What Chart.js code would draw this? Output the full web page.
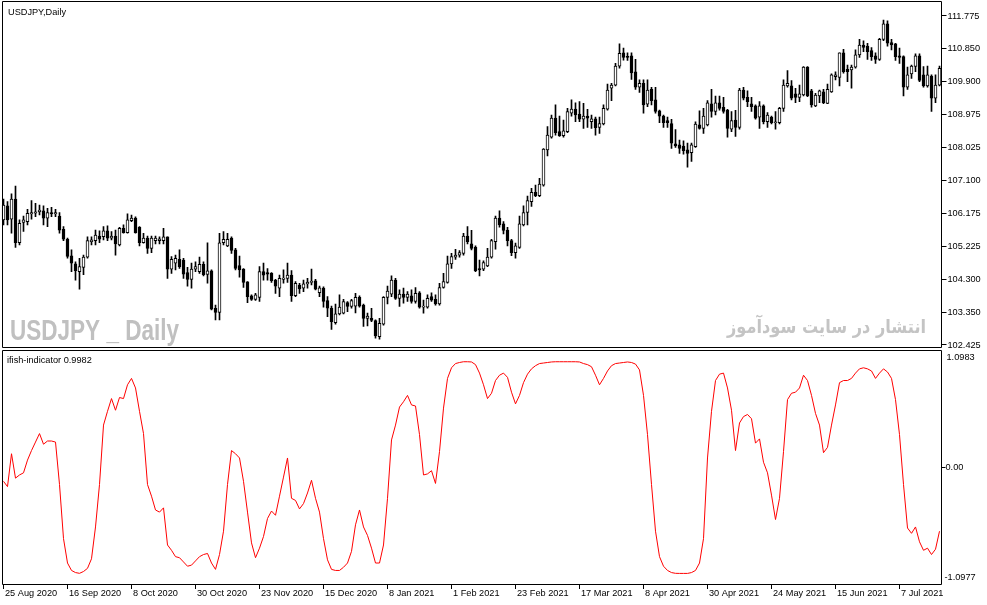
<!DOCTYPE html>
<html>
<head>
<meta charset="utf-8">
<script src="https://cdn.jsdelivr.net/npm/chart.js@4.4.1/dist/chart.umd.min.js"></script>
<style>
html,body{margin:0;padding:0;background:#ffffff;overflow:hidden;}
#wrap{position:relative;width:987px;height:605px;background:#ffffff;}
#ifishCanvas{position:absolute;left:0;top:349px;z-index:1;}
#priceCanvas{position:absolute;left:0;top:0;z-index:2;}
</style>
</head>
<body>
<div id="wrap">
<canvas id="priceCanvas" width="987" height="353"></canvas>
<canvas id="ifishCanvas" width="987" height="256"></canvas>
</div>
<script>
// ---------- DATA ----------
const openP = [
105.98,106.38,106.00,106.57,105.33,105.91,105.93,106.15,106.17,106.21,
106.24,106.03,106.19,106.15,106.09,105.71,105.43,104.96,104.73,104.51,
104.63,104.92,105.36,105.39,105.52,105.50,105.67,105.46,105.52,105.27,
105.74,105.62,105.96,106.03,105.77,105.33,105.46,105.17,105.39,105.39,
105.39,105.50,104.58,104.75,104.86,104.84,104.48,104.29,104.58,104.51,
104.72,104.43,104.53,103.47,103.35,105.33,105.24,105.46,105.13,104.68,
104.58,104.22,103.82,103.72,103.78,104.51,104.48,104.46,104.27,104.04,
104.29,104.32,104.41,103.83,104.13,104.04,104.16,104.20,104.25,103.91,
104.04,103.69,103.47,103.06,103.31,103.33,103.63,103.52,103.53,103.78,
103.56,103.18,103.18,103.12,102.66,103.02,103.78,103.87,104.27,103.75,
103.87,103.78,103.82,103.66,103.91,103.50,103.50,103.80,103.72,103.59,
104.06,104.20,104.73,104.92,104.98,105.03,105.52,105.30,105.20,104.60,
104.58,104.67,104.92,105.36,106.03,105.87,105.69,105.39,105.05,105.20,
105.84,106.19,106.50,106.76,106.67,106.97,107.97,108.33,108.87,108.49,
108.37,108.49,109.01,109.13,108.99,108.84,108.93,108.77,108.85,108.61,
108.71,109.13,109.72,109.81,110.35,110.73,110.62,110.64,110.19,109.75,
109.86,109.27,109.69,109.39,109.08,108.93,108.80,108.72,108.14,108.11,
108.08,107.97,107.89,108.06,108.68,108.58,108.68,109.28,109.06,109.31,
109.18,109.10,108.56,108.82,108.61,109.67,109.46,109.28,109.22,108.90,
109.22,108.77,108.90,108.74,108.74,109.15,109.79,109.79,109.56,109.46,
109.53,110.32,109.65,109.22,109.50,109.62,109.29,109.62,110.05,110.03,
110.73,110.26,110.24,110.32,110.67,110.95,110.92,110.79,110.64,110.54,
111.11,111.55,111.02,110.98,110.64,110.62,109.75,110.13,110.34,110.64,
110.10,109.79,110.07,109.44,109.81];

const highP = [
106.57,106.50,106.72,106.94,105.98,106.09,106.28,106.53,106.45,106.40,
106.38,106.31,106.34,106.28,106.19,105.79,105.46,105.13,104.79,104.89,
104.98,105.50,105.50,105.69,105.67,105.79,105.81,105.65,105.69,105.77,
105.84,106.15,106.12,106.07,105.79,105.60,105.52,105.52,105.52,105.50,
105.74,105.50,104.94,104.98,105.13,104.89,104.63,104.75,104.79,104.92,
104.79,105.33,104.56,103.56,105.60,105.65,105.60,105.50,105.17,104.95,
104.60,104.23,103.85,103.89,104.65,104.75,104.60,104.48,104.29,104.41,
104.56,104.75,104.54,104.23,104.18,104.27,104.32,104.58,104.29,104.10,
104.08,103.80,103.53,103.59,103.85,103.72,103.66,103.72,103.89,103.82,
103.59,103.33,103.47,103.14,103.18,103.80,104.10,104.39,104.32,103.99,
104.04,103.94,103.99,104.06,103.94,103.70,103.85,103.91,103.85,104.18,
104.46,104.95,105.03,105.14,105.11,105.60,105.79,105.68,105.24,104.84,
104.82,105.17,105.43,106.09,106.24,105.93,105.77,105.43,105.32,106.09,
106.38,106.66,106.88,106.97,107.16,108.01,108.63,108.96,109.25,108.93,
108.82,109.15,109.39,109.31,109.34,109.29,109.12,108.96,108.90,108.90,
109.25,109.84,109.86,110.43,110.98,110.86,110.73,110.73,110.54,109.96,
109.96,109.96,109.75,109.75,109.10,108.96,108.90,108.84,108.55,108.25,
108.23,108.16,108.16,108.77,109.08,109.15,109.37,109.69,109.50,109.50,
109.46,109.12,109.06,109.09,109.72,109.75,109.65,109.46,109.25,109.34,
109.25,109.03,108.93,109.06,109.18,109.96,110.22,109.94,109.72,109.81,
110.34,110.34,109.69,109.58,109.67,109.69,109.84,110.13,110.19,110.73,
110.83,110.38,110.38,110.81,111.11,111.07,111.00,110.88,110.73,111.14,
111.66,111.64,111.11,111.00,110.86,110.64,110.32,110.38,110.70,110.70,
110.34,110.35,110.10,110.10,110.35];

const lowP = [
105.84,105.84,105.60,105.20,105.27,105.65,105.84,106.00,106.07,106.12,
105.84,105.79,106.07,106.07,105.60,105.39,104.89,104.51,104.27,104.01,
104.42,104.89,105.27,105.27,105.33,105.41,105.39,105.41,104.98,105.24,
105.60,105.60,105.93,105.60,105.24,105.32,105.03,105.05,105.30,105.30,
105.30,104.32,104.46,104.56,104.60,104.32,104.10,104.04,104.51,104.46,
104.39,104.18,103.42,103.14,103.14,105.27,105.22,105.03,104.56,104.35,
104.06,103.63,103.69,103.69,103.66,104.27,104.27,104.20,103.89,103.80,
104.18,104.20,103.66,103.80,103.89,103.94,104.04,104.13,103.99,103.80,
103.50,103.23,102.87,103.02,103.28,103.31,103.37,103.47,103.34,103.50,
102.95,102.97,103.09,102.62,102.59,102.99,103.59,103.80,103.72,103.52,
103.61,103.66,103.61,103.61,103.47,103.33,103.47,103.66,103.56,103.56,
104.04,104.18,104.60,104.86,104.92,104.98,105.30,105.13,104.51,104.39,
104.54,104.65,104.89,105.15,105.77,105.58,105.24,104.96,104.89,105.17,
105.81,105.84,106.36,106.64,106.64,106.94,107.80,108.30,108.39,108.35,
108.33,108.46,108.93,108.77,108.77,108.58,108.61,108.58,108.39,108.44,
108.68,109.10,109.37,109.79,110.29,110.52,110.51,109.97,109.69,109.60,
109.01,109.20,109.25,109.01,108.74,108.61,108.61,108.01,108.04,107.87,
107.85,107.48,107.64,108.04,108.56,108.44,108.65,108.90,108.96,109.10,
109.01,108.33,108.49,108.35,108.56,109.39,109.20,109.06,108.84,108.58,
108.71,108.61,108.71,108.56,108.71,109.06,109.75,109.39,109.31,109.34,
109.50,109.48,109.18,109.20,109.31,109.28,109.28,109.60,109.96,109.79,
110.15,109.91,109.72,110.29,110.60,110.76,110.54,110.51,110.43,110.51,
111.07,110.92,110.81,110.51,110.43,109.50,109.69,110.00,110.19,109.91,
109.75,109.75,109.06,109.31,109.79];

const closeP = [
106.40,105.98,106.57,105.33,105.88,105.98,106.17,106.19,106.21,106.26,
106.03,106.19,106.15,106.19,105.69,105.43,104.94,104.75,104.54,104.65,
104.92,105.39,105.41,105.55,105.43,105.67,105.46,105.52,105.30,105.74,
105.62,105.98,106.03,105.62,105.33,105.46,105.17,105.46,105.46,105.44,
105.50,104.58,104.86,104.89,104.65,104.44,104.29,104.58,104.65,104.72,
104.42,104.53,103.44,103.35,105.33,105.43,105.43,105.11,104.60,104.56,
104.20,103.80,103.72,103.85,104.51,104.41,104.44,104.25,104.10,104.32,
104.33,104.41,103.83,104.18,104.02,104.16,104.21,104.24,104.01,104.05,
103.66,103.47,103.09,103.31,103.50,103.66,103.52,103.69,103.78,103.53,
103.18,103.25,103.12,102.68,103.04,103.78,103.96,104.27,103.75,103.87,
103.78,103.87,103.66,103.89,103.50,103.53,103.75,103.70,103.59,104.06,
104.23,104.73,104.94,104.98,105.05,105.52,105.36,105.17,104.54,104.56,
104.77,104.92,105.39,106.03,105.84,105.68,105.39,105.05,105.24,105.87,
106.19,106.53,106.76,106.67,107.00,107.99,108.39,108.87,108.46,108.37,
108.51,109.06,109.13,108.96,108.84,108.93,108.87,108.85,108.60,108.72,
109.15,109.67,109.81,110.35,110.71,110.60,110.60,110.16,109.75,109.86,
109.25,109.67,109.37,109.06,108.93,108.74,108.74,108.16,108.08,108.01,
107.95,107.87,108.11,108.70,108.58,108.93,109.31,109.06,109.31,109.15,
109.06,108.58,108.80,108.61,109.67,109.44,109.34,109.20,108.87,109.22,
108.77,108.96,108.74,108.77,109.15,109.81,109.86,109.44,109.46,109.56,
110.32,109.50,109.25,109.53,109.65,109.31,109.69,110.10,110.10,110.73,
110.19,110.19,110.32,110.67,110.95,110.88,110.76,110.62,110.54,111.11,
111.55,111.00,110.95,110.62,110.60,109.75,110.10,110.35,110.64,109.94,
109.79,110.10,109.44,109.81,110.29];

const ifish = [
-0.13,-0.18,0.13,-0.10,-0.07,-0.05,0.07,0.16,0.24,0.32,
0.22,0.25,0.25,0.24,-0.16,-0.67,-0.90,-0.97,-0.99,-0.997,
-0.98,-0.95,-0.86,-0.56,-0.16,0.40,0.53,0.65,0.54,0.66,
0.65,0.78,0.84,0.75,0.53,0.32,-0.16,-0.27,-0.40,-0.42,
-0.38,-0.73,-0.78,-0.84,-0.85,-0.89,-0.93,-0.92,-0.88,-0.84,
-0.82,-0.81,-0.90,-0.96,-0.82,-0.60,-0.16,0.16,0.13,0.09,
-0.13,-0.42,-0.71,-0.85,-0.76,-0.65,-0.48,-0.41,-0.45,-0.27,
-0.09,0.09,-0.29,-0.31,-0.39,-0.34,-0.24,-0.12,-0.29,-0.42,
-0.67,-0.87,-0.96,-0.97,-0.97,-0.94,-0.90,-0.79,-0.54,-0.40,
-0.56,-0.64,-0.76,-0.90,-0.90,-0.73,-0.29,0.26,0.40,0.57,
0.62,0.68,0.59,0.58,0.31,-0.07,-0.06,-0.03,-0.15,0.15,
0.56,0.84,0.94,0.98,0.99,0.997,0.997,0.995,0.97,0.89,
0.78,0.65,0.70,0.82,0.87,0.89,0.85,0.71,0.60,0.68,
0.80,0.88,0.93,0.96,0.98,0.985,0.99,0.995,0.997,0.997,
0.997,0.997,0.997,0.997,0.995,0.98,0.97,0.95,0.87,0.78,
0.84,0.91,0.96,0.98,0.985,0.99,0.995,0.99,0.975,0.92,
0.68,0.31,-0.16,-0.60,-0.84,-0.93,-0.97,-0.99,-0.997,-0.998,
-0.998,-0.998,-0.99,-0.97,-0.90,-0.67,0.09,0.53,0.82,0.88,
0.89,0.75,0.54,0.16,0.42,0.48,0.50,0.46,0.23,0.27,
0.05,-0.05,-0.26,-0.49,-0.29,0.15,0.64,0.70,0.71,0.75,
0.87,0.82,0.68,0.51,0.40,0.14,0.19,0.40,0.59,0.80,
0.82,0.82,0.84,0.89,0.93,0.94,0.93,0.91,0.84,0.89,
0.93,0.90,0.84,0.64,0.31,-0.16,-0.57,-0.62,-0.56,-0.70,
-0.78,-0.76,-0.82,-0.77,-0.60];

const priceTicks = [102.425,103.350,104.300,105.225,106.175,107.100,108.025,108.975,109.900,110.850,111.775];
const ifishTicks = [-1.0977, 0, 1.0983];
const firstDay = [2020, 7, 25];          // 25 Aug 2020 (month 0-based)
const holidays = ['2020-12-25', '2021-01-01'];
const dateTickEvery = 16;
const monthNames = ['Jan','Feb','Mar','Apr','May','Jun','Jul','Aug','Sep','Oct','Nov','Dec'];
const symbolTitle = 'USDJPY,Daily';
const indicatorTitle = 'ifish-indicator 0.9982';
const watermarkLatin = 'USDJPY _ Daily';
const watermarkPersian = 'انتشار در سایت سودآموز';

// trading-day categories
function buildCategories(n) {
  const out = [];
  const d = new Date(Date.UTC(firstDay[0], firstDay[1], firstDay[2]));
  while (out.length < n) {
    const dow = d.getUTCDay();
    const iso = d.toISOString().slice(0, 10);
    if (dow !== 0 && dow !== 6 && holidays.indexOf(iso) < 0) {
      out.push(d.getUTCDate() + ' ' + monthNames[d.getUTCMonth()] + ' ' + d.getUTCFullYear());
    }
    d.setUTCDate(d.getUTCDate() + 1);
  }
  return out;
}
const categories = buildCategories(closeP.length);

// ---------- STYLE ----------
const AXIS_FONT = { family: "'Liberation Sans', Arial, sans-serif", size: 9.2, lineHeight: 1 };
const FONT_CSS = "9.2px 'Liberation Sans', Arial, sans-serif";
Chart.defaults.font.family = AXIS_FONT.family;

function framePlugin(id, x1, y1, x2, y2) {
  return {
    id: id,
    afterDraw(chart) {
      const ctx = chart.ctx;
      ctx.save();
      ctx.strokeStyle = '#000000';
      ctx.lineWidth = 1;
      ctx.beginPath();
      ctx.rect(x1, y1, x2 - x1, y2 - y1);
      ctx.stroke();
      ctx.restore();
    }
  };
}

const priceOverlay = {
  id: 'priceOverlay',
  beforeDatasetsDraw(chart) {
    const ctx = chart.ctx;
    // Latin watermark
    ctx.save();
    ctx.fillStyle = '#c0c0c0';
    ctx.font = "bold 30px 'Liberation Sans Narrow', 'Arial Narrow', 'Liberation Sans', sans-serif";
    ctx.textAlign = 'left';
    ctx.textBaseline = 'alphabetic';
    const w1 = ctx.measureText(watermarkLatin).width;
    ctx.translate(10, 340);
    ctx.scale(169 / w1, 1);
    ctx.fillText(watermarkLatin, 0, 0);
    ctx.restore();
    // Persian watermark
    ctx.save();
    ctx.fillStyle = '#c4c4c4';
    ctx.font = "bold 19px 'DejaVu Sans', sans-serif";
    ctx.textAlign = 'left';
    ctx.textBaseline = 'alphabetic';
    const w2 = ctx.measureText(watermarkPersian).width;
    ctx.translate(727, 333);
    ctx.scale(199 / w2, 1);
    ctx.fillText(watermarkPersian, 0, 0);
    ctx.restore();
  },
  afterDraw(chart) {
    const ctx = chart.ctx;
    ctx.save();
    ctx.fillStyle = '#000000';
    ctx.font = FONT_CSS;
    ctx.textAlign = 'left';
    ctx.textBaseline = 'alphabetic';
    ctx.fillText(symbolTitle, 8, 15);
    ctx.restore();
  }
};

const ifishOverlay = {
  id: 'ifishOverlay',
  afterDraw(chart) {
    const ctx = chart.ctx;
    const ys = chart.scales.y;
    ctx.save();
    ctx.fillStyle = '#000000';
    ctx.font = FONT_CSS;
    ctx.textAlign = 'left';
    ctx.textBaseline = 'alphabetic';
    ctx.fillText(indicatorTitle, 7, 14);
    ctx.textBaseline = 'middle';
    const lx = ys.left + 5;
    ctx.fillText(ifishTicks[2].toFixed(4), lx, ys.getPixelForValue(ifishTicks[2]) + 6.5);
    ctx.fillText(ifishTicks[0].toFixed(4), lx - 2, ys.getPixelForValue(ifishTicks[0]) - 7);
    ctx.restore();
  }
};

// ---------- PRICE CHART ----------
const bodies = openP.map((o, i) => [o, closeP[i]]);
const wicks = lowP.map((l, i) => [l, highP[i]]);
const bodyFill = openP.map((o, i) => (closeP[i] >= o ? '#ffffff' : '#000000'));

new Chart(document.getElementById('priceCanvas'), {
  type: 'bar',
  data: {
    labels: categories,
    datasets: [
      { label: 'body', data: bodies, backgroundColor: bodyFill, borderColor: '#000000', borderWidth: 1,
        borderSkipped: false, barThickness: 3, grouped: false, minBarLength: 1 },
      { label: 'wick', data: wicks, backgroundColor: '#000000', borderWidth: 0,
        barThickness: 1, grouped: false }
    ]
  },
  options: {
    responsive: false, animation: false, devicePixelRatio: 1, events: [],
    layout: { padding: { left: 1.5, top: 2, right: 0, bottom: 6 } },
    plugins: { legend: { display: false }, tooltip: { enabled: false } },
    scales: {
      x: { type: 'category', display: false, offset: true, grid: { display: false } },
      y: {
        position: 'right', min: 102.368, max: 112.172,
        afterBuildTicks: s => { s.ticks = priceTicks.map(v => ({ value: v })); },
        afterFit: s => { s.width = 45.5; s.paddingTop = 0; s.paddingBottom = 0; },
        grid: { drawOnChartArea: false, drawTicks: true, tickLength: 5, color: '#000000', lineWidth: 1 },
        border: { display: false },
        ticks: { color: '#000000', font: AXIS_FONT, padding: 1, autoSkip: false,
                 callback: v => Number(v).toFixed(3) }
      }
    }
  },
  plugins: [priceOverlay, framePlugin('priceFrame', 2.5, 1.5, 941.5, 347.5)]
});

// ---------- INDICATOR CHART ----------
new Chart(document.getElementById('ifishCanvas'), {
  type: 'line',
  data: {
    labels: categories,
    datasets: [{ label: 'ifish', data: ifish, borderColor: '#ff0000', borderWidth: 1,
                 pointRadius: 0, tension: 0, fill: false }]
  },
  options: {
    responsive: false, animation: false, devicePixelRatio: 1, events: [],
    layout: { padding: { left: 1.5, top: 2, right: 0, bottom: 0 } },
    plugins: { legend: { display: false }, tooltip: { enabled: false } },
    scales: {
      x: {
        type: 'category', offset: true,
        afterBuildTicks: s => { s.ticks = s.ticks.filter(t => t.value % dateTickEvery === 0); },
        afterFit: s => { s.height = 21; s.paddingLeft = 0; s.paddingRight = 0; },
        grid: { offset: false, drawOnChartArea: false, drawTicks: true, tickLength: 5, color: '#000000' },
        border: { display: false },
        ticks: { align: 'start', maxRotation: 0, minRotation: 0, autoSkip: false, padding: 0,
                 labelOffset: 1.5, color: '#000000', font: AXIS_FONT,
                 callback: function (v) { return this.getLabelForValue(v); } }
      },
      y: {
        position: 'right', min: ifishTicks[0], max: ifishTicks[2],
        afterBuildTicks: s => { s.ticks = ifishTicks.map(v => ({ value: v })); },
        afterFit: s => { s.width = 45.5; s.paddingTop = 0; s.paddingBottom = 0; },
        grid: { drawOnChartArea: false, drawTicks: true, tickLength: 4,
                color: c => (c.tick && c.tick.value === 0 ? '#000000' : 'rgba(0,0,0,0)') },
        border: { display: false },
        ticks: { color: '#000000', font: AXIS_FONT, padding: 0, autoSkip: false,
                 callback: v => (v === 0 ? '0.00' : '') }
      }
    }
  },
  plugins: [ifishOverlay, framePlugin('ifishFrame', 2.5, 1.5, 941.5, 235.5)]
});
</script>
</body>
</html>
